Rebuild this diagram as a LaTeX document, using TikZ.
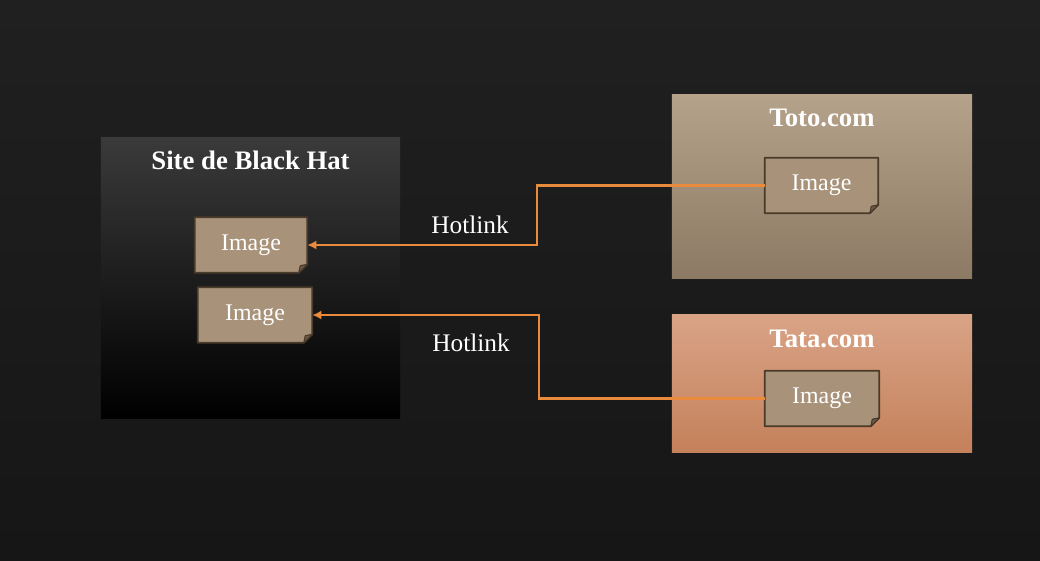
\documentclass[tikz,border=0pt]{standalone}
\usepackage{fontspec}
\setmainfont{Liberation Serif}
\usetikzlibrary{arrows.meta}
\definecolor{bgtop}{HTML}{202020}
\definecolor{bgbottom}{HTML}{161616}
\definecolor{hattop}{HTML}{3A3A3A}
\definecolor{hatmid}{HTML}{262626}
\definecolor{tototop}{HTML}{B5A28A}
\definecolor{totobottom}{HTML}{8D7A64}
\definecolor{tatatop}{HTML}{D9A386}
\definecolor{tatabottom}{HTML}{C4815B}
\definecolor{imgtan}{HTML}{A89279}
\definecolor{imgedge}{HTML}{4A3A2A}
\definecolor{foldtan}{HTML}{6E5A46}
\definecolor{hotorange}{HTML}{EA8A3C}
\pgfdeclarelayer{back}
\pgfdeclarelayer{cards}
\pgfsetlayers{back,cards,main}
\tikzset{site/.style = {shade, inner sep = 0, minimum width = 7.5cm}}
\tikzset{img/.style = {rectangle, inner sep = 0, minimum width = 2.825cm, minimum height = 1.375cm,
                       text = white, font = \fontsize{17}{17}\selectfont}}
\tikzset{card/.style = {fill = imgtan, draw = imgedge, line width = 1.2pt, line join = round}}
\tikzset{fold/.style = {fill = foldtan, draw = imgedge, line width = 0.8pt, line join = round}}
\tikzset{hot/.style = {draw = hotorange, line width = 1.6pt, -{Latex[length=6.5pt, width=6.5pt]}}}
\tikzset{title/.style = {text = white, font = \fontsize{19}{19}\selectfont\bfseries}}
\tikzset{hotlabel/.style = {text = white, font = \fontsize{18}{18}\selectfont}}

\begin{document}
\begin{tikzpicture}[x=0.025cm, y=-0.025cm]
    \useasboundingbox (0, 0) rectangle (1040, 560);

    % sites
    \begin{pgfonlayer}{back}
      \shade [top color=bgtop, bottom color=bgbottom] (0, 0) rectangle (1040, 560);
      \node [site, minimum width=7.475cm, minimum height=7cm, top color=hattop, middle color=hatmid, bottom color=black] (blackhat) at (250.5, 278) {};
      \node [site, minimum height=4.575cm, top color=tototop, bottom color=totobottom] (toto) at (822, 186.5) {};
      \node [site, minimum height=3.425cm, top color=tatatop, bottom color=tatabottom] (tata) at (822, 383.5) {};
    \end{pgfonlayer}
    \node [title] (blackhattitle) at (250.5, 160) {Site de Black Hat};
    \node [title] (tototitle) at (822, 118) {Toto.com};
    \node [title] (tatatitle) at (822, 339) {Tata.com};

    % images
    \node [img, minimum width=2.8cm] (img1) at (251, 245) {Image};
    \node [img, minimum width=2.85cm] (img2) at (255, 315) {Image};
    \node [img] (img3) at (821.5, 185.5) {Image};
    \node [img, minimum width=2.85cm] (img4) at (822, 398.5) {Image};
    \begin{pgfonlayer}{cards}
      \foreach \n in {img1, img2, img3, img4} {
        \draw [card] (\n.north west) -- (\n.north east) -- ([yshift=6pt]\n.south east)
                     -- ([xshift=-6pt]\n.south east) -- (\n.south west) -- cycle;
        \draw [fold] ([xshift=-6pt]\n.south east) -- ([yshift=6pt]\n.south east)
                     -- ([xshift=-5pt, yshift=5pt]\n.south east) -- cycle;
      }
    \end{pgfonlayer}

    % hotlinks
    \coordinate (bend1) at (537, 0);
    \coordinate (bend2) at (539, 0);
    \draw [hot] (img3.west) -- (img3.west -| bend1) |- (img1.east);
    \draw [hot] (img4.west) -- (img4.west -| bend2) |- (img2.east);
    \node [hotlabel] (hot1) at (470, 225) {Hotlink};
    \node [hotlabel] (hot2) at (471, 343) {Hotlink};
  \end{tikzpicture}
\end{document}
